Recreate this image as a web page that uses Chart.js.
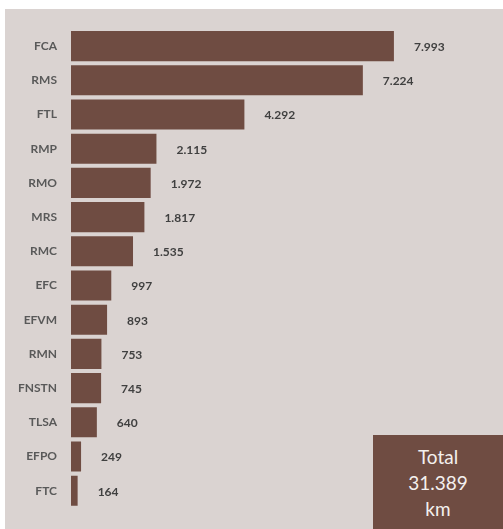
<!DOCTYPE html>
<html>
<head>
<meta charset="utf-8">
<script src="https://cdn.jsdelivr.net/npm/chart.js@4"></script>
<style>
  html, body { margin: 0; padding: 0; background: #ffffff; }
  #wrap { position: relative; width: 503px; height: 529px; overflow: hidden; }
  #bg { position: absolute; left: 5px; top: 9px; right: 0; bottom: 0; background: #dad3d1; }
  #chart { position: absolute; left: 0; top: 0; }
  #total {
    position: absolute; left: 373px; top: 435px; width: 130px; height: 94px;
    background: #6f4c42; color: #f4f0ee; text-align: center;
    font-family: Lato, sans-serif; font-size: 19px; line-height: 26px;
    padding-top: 9px; box-sizing: border-box;
  }
</style>
</head>
<body>
<div id="wrap">
  <div id="bg"></div>
  <canvas id="chart" width="503" height="529"></canvas>
  <div id="total">Total<br>31.389<br>km</div>
</div>
<script>
// railway operators, km of track
const operators = ['FCA', 'RMS', 'FTL', 'RMP', 'RMO', 'MRS', 'RMC', 'EFC', 'EFVM', 'RMN', 'FNSTN', 'TLSA', 'EFPO', 'FTC'];
const km = [7993, 7224, 4292, 2115, 1972, 1817, 1535, 997, 893, 753, 745, 640, 249, 164];
const kmLabels = ['7.993', '7.224', '4.292', '2.115', '1.972', '1.817', '1.535', '997', '893', '753', '745', '640', '249', '164'];

const barColor = '#6f4c42';

const valueLabels = {
    id: 'valueLabels',
    afterDatasetsDraw(chart) {
        const ctx = chart.ctx;
        const meta = chart.getDatasetMeta(0);
        ctx.save();
        ctx.font = 'bold 12px Lato, sans-serif';
        ctx.fillStyle = '#404040';
        ctx.textAlign = 'left';
        ctx.textBaseline = 'middle';
        meta.data.forEach((bar, i) => {
            ctx.fillText(kmLabels[i], bar.x + 20, bar.y + 1);
        });
        ctx.restore();
    }
};

new Chart(document.getElementById('chart'), {
    type: 'bar',
    data: {
        labels: operators,
        datasets: [{
            data: km,
            backgroundColor: barColor,
            borderWidth: 0,
            categoryPercentage: 1,
            barPercentage: 0.88
        }]
    },
    options: {
        indexAxis: 'y',
        responsive: false,
        animation: false,
        layout: { padding: { top: 29, bottom: 8, left: 0, right: 28 } },
        plugins: {
            legend: { display: false },
            tooltip: { enabled: false }
        },
        scales: {
            x: { display: false, min: 0, max: 10000 },
            y: {
                grid: { display: false, drawTicks: false, tickLength: 0 },
                border: { display: false },
                ticks: {
                    padding: 14,
                    color: '#595959',
                    font: { family: 'Lato, sans-serif', size: 12, weight: 'bold' }
                },
                afterFit: s => { s.width = 71; }
            }
        }
    },
    plugins: [valueLabels]
});
</script>
</body>
</html>
